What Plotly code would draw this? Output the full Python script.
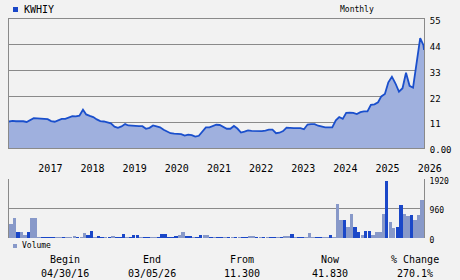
import pandas as pd
import plotly.graph_objects as go

# ---- data ----
price_values = [
    11.3, 11.6, 11.4, 11.5, 11.4, 11.1, 12.0, 12.7, 12.6, 12.5,
    12.5, 12.3, 11.5, 11.2, 11.8, 12.4, 12.4, 13.0, 13.6, 13.5,
    13.8, 16.3, 14.3, 13.7, 13.2, 12.2, 11.5, 11.3, 10.9, 10.5,
    9.1, 8.6, 9.2, 10.2, 9.6, 9.4, 9.3, 9.3, 9.3, 8.2,
    8.6, 9.6, 9.2, 8.8, 7.8, 7.0, 6.3, 6.1, 6.1, 5.9,
    5.3, 5.7, 5.5, 4.9, 5.2, 7.0, 8.8, 8.8, 9.4, 9.9,
    9.8, 9.0, 8.2, 8.2, 9.4, 8.3, 6.6, 7.0, 7.5, 7.3,
    7.2, 7.2, 7.2, 7.4, 7.8, 7.8, 6.3, 6.5, 7.2, 8.7,
    8.5, 8.5, 8.5, 8.5, 8.0, 10.0, 10.2, 10.2, 9.5, 9.0,
    8.8, 8.8, 8.8, 11.8, 13.2, 12.4, 15.0, 15.1, 15.0, 14.5,
    15.3, 15.6, 15.6, 18.4, 18.6, 19.5, 22.0, 23.0, 28.0, 30.4,
    27.6, 24.0, 25.5, 32.1, 26.5, 25.7, 36.0, 46.8, 43.9, 41.83,
]
price_dates = list(pd.date_range("2016-04-30", periods=119, freq="ME").strftime("%Y-%m-%d")) + ["2026-03-05"]

volume_values = [
    445, 640, 185, 185, 85, 185, 640, 640, 30, 25,
    20, 20, 25, 20, 30, 20, 30, 20, 50, 30,
    20, 150, 85, 215, 20, 50, 25, 20, 25, 50,
    25, 30, 120, 25, 20, 85, 85, 25, 20, 30,
    25, 20, 30, 120, 120, 25, 30, 50, 85, 185,
    50, 50, 25, 25, 85, 85, 85, 25, 20, 25,
    30, 25, 20, 30, 25, 20, 25, 30, 60, 50,
    20, 25, 30, 20, 25, 30, 20, 25, 40, 40,
    120, 25, 20, 30, 25, 150, 20, 25, 30, 20,
    25, 85, 30, 1095, 575, 575, 360, 770, 360, 185,
    85, 215, 215, 85, 185, 185, 770, 1850, 510, 315,
    345, 1060, 770, 705, 735, 575, 735, 1225,
]
volume_up = [
    0, 0, 1, 0, 0, 1, 0, 0, 0, 1,
    1, 1, 1, 0, 0, 1, 0, 0, 0, 1,
    0, 0, 1, 1, 0, 1, 1, 0, 1, 0,
    1, 1, 1, 0, 1, 1, 1, 0, 1, 1,
    0, 0, 1, 1, 1, 1, 1, 1, 0, 0,
    1, 1, 0, 1, 1, 0, 0, 1, 0, 1,
    1, 0, 1, 0, 1, 0, 1, 1, 0, 0,
    1, 0, 1, 0, 1, 1, 0, 1, 0, 0,
    1, 0, 1, 1, 0, 0, 0, 1, 1, 0,
    0, 1, 0, 0, 0, 1, 0, 0, 1, 1,
    0, 1, 1, 0, 0, 0, 0, 1, 0, 0,
    1, 1, 0, 0, 1, 0, 0, 0,
]
volume_months = list(pd.period_range("2016-05", periods=118, freq="M").strftime("%Y-%m"))

year_ticks = [f"{y}-01-01" for y in range(2017, 2027)]
year_labels = [str(y) for y in range(2017, 2027)]
price_ticks = [0, 11, 22, 33, 44, 55]
price_tick_labels = ["0.00", "11", "22", "33", "44", "55"]
volume_ticks = [0, 960, 1920]
volume_tick_labels = ["0", "960", "1920"]

symbol = "KWHIY"
stats_titles = ["Begin", "End", "From", "Now", "% Change"]
stats_values = ["04/30/16", "03/05/26", "11.300", "41.830", "270.1%"]

# ---- styles ----
BG = "#f2f2f2"
GRID = "#8a8a8a"
LINE = "#1a4fcc"
FILL = "#9fb0de"
DARK = "#1a47c8"
LIGHT = "#8899c9"
FONT = "DejaVu Sans Mono"

W, H = 460, 280
L, R, T, B = 9, 36, 19, 42
plot_h = H - T - B


def fx(px):
    return (px - L) / (W - L - R)


def fy(px):
    return (H - B - px) / plot_h


fig = go.Figure()
fig.add_trace(go.Scatter(
    x=price_dates, y=price_values, mode="lines",
    line=dict(color=LINE, width=1.8), fill="tozeroy", fillcolor=FILL,
    xaxis="x", yaxis="y", hoverinfo="skip",
))
fig.add_trace(go.Bar(
    x=volume_months, y=volume_values,
    xperiod="M1", xperiodalignment="middle",
    marker=dict(color=[DARK if u else LIGHT for u in volume_up], line=dict(width=0)),
    xaxis="x2", yaxis="y2", hoverinfo="skip",
))

xrange = ["2016-04-30", "2026-03-05"]
fig.update_layout(
    width=W, height=H,
    margin=dict(l=L, r=R, t=T, b=B),
    paper_bgcolor=BG, plot_bgcolor=BG,
    showlegend=False, bargap=0,
    font=dict(family=FONT, size=10, color="#000"),
    xaxis=dict(
        domain=[0, 1], anchor="y", range=xrange, type="date",
        tickvals=year_ticks, ticktext=year_labels, ticklabelshift=13, ticklabelstandoff=11,
        ticks="", showgrid=False, showline=True, mirror=True, linecolor=GRID, linewidth=1,
        tickfont=dict(size=10), zeroline=False,
    ),
    yaxis=dict(
        domain=[fy(148), 1], anchor="x", range=[0, 55], side="right",
        tickvals=price_ticks, ticktext=price_tick_labels, tickfont=dict(size=9),
        showgrid=True, gridcolor=GRID, gridwidth=1, zeroline=False,
        showline=True, mirror=True, linecolor=GRID, linewidth=1, ticks="",
        ticklabelstandoff=3, ticklabelshift=2,
    ),
    xaxis2=dict(
        domain=[0, 1], anchor="y2", range=xrange, type="date",
        showticklabels=False, ticks="", showgrid=False, zeroline=False, showline=False,
    ),
    yaxis2=dict(
        domain=[0, fy(179)], anchor="x2", range=[0, 1920], side="right",
        tickvals=volume_ticks, ticktext=volume_tick_labels, tickfont=dict(size=8),
        showgrid=True, gridcolor=GRID, gridwidth=1, zeroline=False,
        showline=True, mirror=True, linecolor=GRID, linewidth=1, ticks="",
        ticklabelstandoff=3, ticklabelshift=2,
    ),
)

ann = [
    dict(x=fx(22), y=fy(9.5), text=symbol, xanchor="left", font=dict(size=10)),
    dict(x=fx(357), y=fy(9.5), text="Monthly", xanchor="center", font=dict(size=8)),
    dict(x=fx(20), y=fy(245.5), text="Volume", xanchor="left", font=dict(size=8)),
]
centers = [65, 152, 242, 330, 415]
for cx, t, v in zip(centers, stats_titles, stats_values):
    ann.append(dict(x=fx(cx), y=fy(259), text=t, xanchor="center", font=dict(size=10)))
    ann.append(dict(x=fx(cx), y=fy(273), text=v, xanchor="center", font=dict(size=10)))
for a in ann:
    a.update(xref="paper", yref="paper", showarrow=False, yanchor="middle")
fig.update_layout(annotations=ann)

fig.add_shape(type="rect", xref="paper", yref="paper",
              x0=fx(13), x1=fx(18), y0=fy(12), y1=fy(7), fillcolor=DARK, line=dict(width=0))
fig.add_shape(type="rect", xref="paper", yref="paper",
              x0=fx(13), x1=fx(17), y0=fy(248), y1=fy(244), fillcolor=LIGHT, line=dict(width=0))

fig.write_html("out.html")
